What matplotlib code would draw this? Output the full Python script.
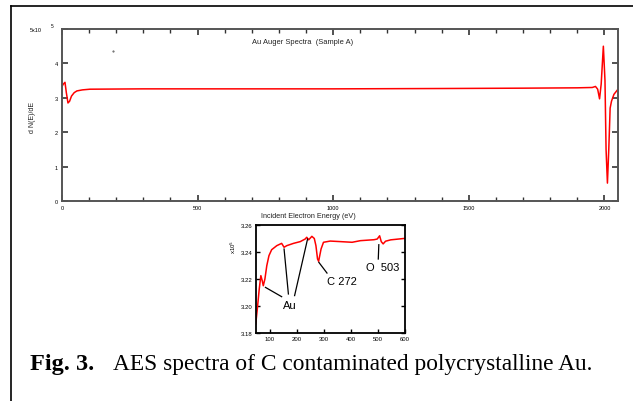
import matplotlib
matplotlib.use("Agg")
import matplotlib.pyplot as plt
from matplotlib.lines import Line2D
from matplotlib.ticker import MultipleLocator

plt.rcParams["font.family"] = ["Liberation Sans", "DejaVu Sans"]

# full spectrum (energy in eV, dN/dE in units of 1e5)
full_energy = [0, 5, 11, 16, 22, 28, 35, 45, 55, 75, 103, 300, 600, 1000,
               1400, 1700, 1900, 1955, 1967, 1975, 1982, 1988, 1996, 2002,
               2006, 2011, 2016, 2021, 2026, 2035, 2048]
full_signal = [3.33, 3.40, 3.45, 3.15, 2.85, 2.90, 3.05, 3.15, 3.20, 3.23,
               3.25, 3.26, 3.26, 3.26, 3.27, 3.28, 3.29, 3.30, 3.33, 3.25,
               2.97, 3.40, 4.50, 3.50, 1.50, 0.52, 1.50, 2.70, 2.90, 3.10,
               3.23]

# zoomed low-energy part
zoom_energy = [47, 53, 60, 66, 71, 75, 81, 88, 96, 106, 125, 143, 152, 162,
               187, 212, 230, 236, 243, 255, 264, 270, 276, 280, 289, 298,
               323, 360, 404, 435, 485, 497, 506, 512, 519, 528, 547, 600]
zoom_signal = [3.1867, 3.198, 3.2126, 3.2225, 3.2188, 3.215, 3.220, 3.2299,
               3.2373, 3.2417, 3.2447, 3.2464, 3.2435, 3.2447, 3.2464, 3.2477,
               3.2496, 3.2509, 3.2490, 3.2516, 3.2500, 3.2447, 3.2348, 3.2331,
               3.2422, 3.2472, 3.2481, 3.2477, 3.2472, 3.2484, 3.2491, 3.2496,
               3.2520, 3.2477, 3.2460, 3.2480, 3.2490, 3.2501]

main_yticks = [0, 1, 2, 3, 4, 5]
main_ylabels = ["0", "1", "2", "3", "4", ""]
main_xticks = [0, 500, 1000, 1500, 2000]
zoom_xticks = [100, 200, 300, 400, 500, 600]
zoom_yticks = [3.18, 3.20, 3.22, 3.24, 3.26]

W, H = 633, 402
fig = plt.figure(figsize=(W / 100, H / 100), dpi=100)

def fx(px):
    return px / W

def fy(py):
    return 1 - py / H

# page border (left and top only visible)
fig.add_artist(Line2D([fx(11), fx(11)], [fy(7), 0], color="black", lw=1.2))
fig.add_artist(Line2D([fx(11), 1], [fy(7), fy(7)], color="black", lw=1.2))

# main spectrum
ax = fig.add_axes([fx(62), fy(202), fx(618 - 62), (202 - 30) / H])
ax.plot(full_energy, full_signal, color="#ff0000", lw=1.1)
ax.set_xlim(0, 2050)
ax.set_ylim(0, 5)
ax.set_xticks(main_xticks)
ax.xaxis.set_minor_locator(MultipleLocator(100))
ax.set_yticks(main_yticks)
ax.set_yticklabels(main_ylabels)
for s in ax.spines.values():
    s.set_color("#555555")
    s.set_linewidth(1.4)
ax.tick_params(which="both", direction="in", top=True, right=True,
               color="#333333", labelsize=4, pad=3)
ax.tick_params(which="major", length=4, width=1.2)
ax.tick_params(which="minor", length=3, width=1.0)
ax.text(0.432, 0.93, "Au Auger Spectra  (Sample A)", transform=ax.transAxes,
        ha="center", va="center", fontsize=5.4, color="#222222")
fig.text(fx(42), fy(31), "5x10", fontsize=4, ha="right", va="center")
fig.text(fx(52), fy(27), "5", fontsize=3.5, ha="center", va="center")
fig.text(fx(32), fy(117), "d N(E)/dE", fontsize=5, rotation=90,
         ha="center", va="center", color="#222222")
fig.text(fx(308), fy(217), "Incident Electron Energy (eV)", fontsize=5.2,
         ha="center", va="center", color="#222222")
fig.add_artist(Line2D([fx(113)], [fy(52)], marker=".", ms=1, color="#555555"))

# inset
ins = fig.add_axes([fx(256), fy(334), fx(405 - 256), (334 - 226) / H])
ins.plot(zoom_energy, zoom_signal, color="#ff0000", lw=1.1)
ins.set_xlim(48, 600)
ins.set_ylim(3.18, 3.26)
ins.set_xticks(zoom_xticks)
ins.set_yticks(zoom_yticks)
ins.set_yticklabels([f"{v:.2f}" for v in zoom_yticks])
for s in ins.spines.values():
    s.set_linewidth(1.3)
ins.tick_params(direction="in", length=3, width=1, labelsize=4.3, pad=2.5,
                right=True)
fig.text(fx(233), fy(247), r"x10$^5$", fontsize=4.3, rotation=90,
         ha="center", va="center")

line_kw = dict(color="black", lw=0.9)
ins.plot([83, 143], [3.2138, 3.2069], **line_kw)
ins.plot([152, 168], [3.2422, 3.2089], **line_kw)
ins.plot([239, 191], [3.2496, 3.2077], **line_kw)
ins.text(172, 3.2007, "Au", fontsize=8, ha="center", va="center")
ins.plot([281, 311], [3.2323, 3.2244], **line_kw)
ins.text(368, 3.2188, "C 272", fontsize=8, ha="center", va="center")
ins.plot([503, 501], [3.2454, 3.2348], **line_kw)
ins.text(519, 3.2286, "O  503", fontsize=8, ha="center", va="center")

# caption
fig.text(fx(30), fy(370), "Fig. 3.", fontsize=17.5, fontweight="bold",
         family="Liberation Serif", ha="left", va="baseline")
fig.text(fx(113), fy(370), "AES spectra of C contaminated polycrystalline Au.",
         fontsize=16.8, family="Liberation Serif", ha="left", va="baseline")

fig.savefig("out.png", dpi=100)
